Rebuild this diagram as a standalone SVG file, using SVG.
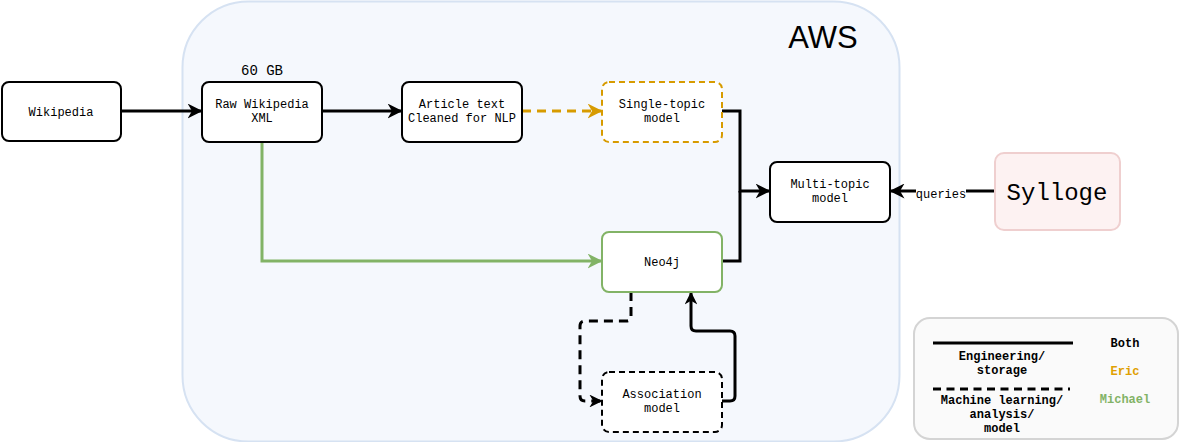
<svg xmlns="http://www.w3.org/2000/svg" width="1201" height="442" viewBox="0 0 1201 442">
<defs>
<style>
.node{fill:#ffffff;stroke:#000000;stroke-width:2}
.t{font-family:"Liberation Mono","DejaVu Sans Mono",monospace;font-size:12px;fill:#000;text-anchor:middle}
.b{font-weight:bold}
.c{fill:none;stroke:#000;stroke-width:3}
</style>
<marker id="ab" viewBox="0 0 10 10" refX="9" refY="5" markerWidth="5" markerHeight="5" orient="auto" markerUnits="strokeWidth"><path d="M0,0 L10,5 L0,10 L3,5 Z" fill="#000"/></marker>
<marker id="ab2" viewBox="0 0 10 10" refX="9" refY="5" markerWidth="4.3" markerHeight="4.3" orient="auto" markerUnits="strokeWidth"><path d="M0,0 L10,5 L0,10 L3,5 Z" fill="#000"/></marker>
<marker id="ao" viewBox="0 0 10 10" refX="9" refY="5" markerWidth="5" markerHeight="5" orient="auto" markerUnits="strokeWidth"><path d="M0,0 L10,5 L0,10 L3,5 Z" fill="#d79b00"/></marker>
<marker id="ag" viewBox="0 0 10 10" refX="9" refY="5" markerWidth="5" markerHeight="5" orient="auto" markerUnits="strokeWidth"><path d="M0,0 L10,5 L0,10 L3,5 Z" fill="#82b366"/></marker>
</defs>
<g id="aws">
<rect x="182.5" y="1.5" width="717" height="440" rx="66" fill="#f5f8fd" stroke="#d6e2f2" stroke-width="2"/>
<text x="823" y="48" style="font-family:'Liberation Sans',Arial,sans-serif;font-size:31px;fill:#000;text-anchor:middle">AWS</text>
</g>
<g id="connectors">
<line class="c" x1="121" y1="111" x2="201" y2="111" marker-end="url(#ab)"/>
<line class="c" x1="322" y1="111" x2="401" y2="111" marker-end="url(#ab)"/>
<line x1="522" y1="111" x2="601" y2="111" fill="none" stroke="#d79b00" stroke-width="3" stroke-dasharray="9 6" marker-end="url(#ao)"/>
<path class="c" d="M722,111 H740 V191 H769" marker-end="url(#ab)"/>
<path class="c" d="M722,261 H740 V191"/>
<path d="M262,142 V261 H601" fill="none" stroke="#82b366" stroke-width="3" marker-end="url(#ag)"/>
<path class="c" d="M995,191 H966"/>
<path class="c" d="M916,191 H891" marker-end="url(#ab)"/>
<text class="t" x="941" y="198">queries</text>
<path class="c" d="M631,292 V316 Q631,321 626,321 H585 Q580,321 580,326 V396 Q580,401 585,401 H601" stroke-dasharray="9 6" marker-end="url(#ab2)"/>
<path class="c" d="M722,401 H730 Q735,401 735,396 V336 Q735,331 730,331 H696 Q691,331 691,326 V293" marker-end="url(#ab2)"/>
</g>
<g id="wikipedia">
<rect class="node" x="2" y="82" width="119" height="59" rx="7"/>
<text class="t" x="61" y="116">Wikipedia</text>
</g>
<g id="raw">
<rect class="node" x="202" y="82" width="120" height="60" rx="7"/>
<text class="t" x="262" y="75" style="font-size:14px">60 GB</text>
<text class="t" x="262" y="108">Raw Wikipedia</text>
<text class="t" x="262" y="122">XML</text>
</g>
<g id="article">
<rect class="node" x="402" y="82" width="120" height="60" rx="7"/>
<text class="t" x="462" y="108">Article text</text>
<text class="t" x="462" y="122">Cleaned for NLP</text>
</g>
<g id="single">
<rect x="602" y="82" width="120" height="60" rx="7" fill="#fff" stroke="#d79b00" stroke-width="2" stroke-dasharray="6 4"/>
<text class="t" x="662" y="108">Single-topic</text>
<text class="t" x="662" y="122">model</text>
</g>
<g id="multi">
<rect class="node" x="770" y="162" width="120" height="60" rx="7"/>
<text class="t" x="830" y="188">Multi-topic</text>
<text class="t" x="830" y="202">model</text>
</g>
<g id="neo4j">
<rect x="602" y="232" width="120" height="60" rx="7" fill="#fff" stroke="#82b366" stroke-width="2"/>
<text class="t" x="662" y="266">Neo4j</text>
</g>
<g id="association">
<rect x="602" y="372" width="120" height="60" rx="7" fill="#fff" stroke="#000" stroke-width="2" stroke-dasharray="6 4"/>
<text class="t" x="662" y="398">Association</text>
<text class="t" x="662" y="412">model</text>
</g>
<g id="sylloge">
<rect x="995" y="153" width="125" height="77" rx="9" fill="#fdf2f2" stroke="#efcfcf" stroke-width="2"/>
<text class="t" x="1057" y="200" style="font-size:24px">Sylloge</text>
</g>
<g id="legend">
<rect x="914" y="318" width="264" height="121" rx="16" fill="#fafafa" stroke="#d4d4d4" stroke-width="2"/>
<line x1="933" y1="343" x2="1073" y2="343" stroke="#000" stroke-width="3"/>
<line x1="933" y1="389" x2="1070" y2="389" stroke="#000" stroke-width="3" stroke-dasharray="8 5.5"/>
<text class="t b" x="1002" y="360">Engineering/</text>
<text class="t b" x="1002" y="374">storage</text>
<text class="t b" x="1002" y="404">Machine learning/</text>
<text class="t b" x="1002" y="418">analysis/</text>
<text class="t b" x="1002" y="432">model</text>
<text class="t b" x="1125" y="347">Both</text>
<text class="t b" x="1125" y="375" style="fill:#e0a000">Eric</text>
<text class="t b" x="1125" y="403" style="fill:#82b366">Michael</text>
</g>
</svg>
